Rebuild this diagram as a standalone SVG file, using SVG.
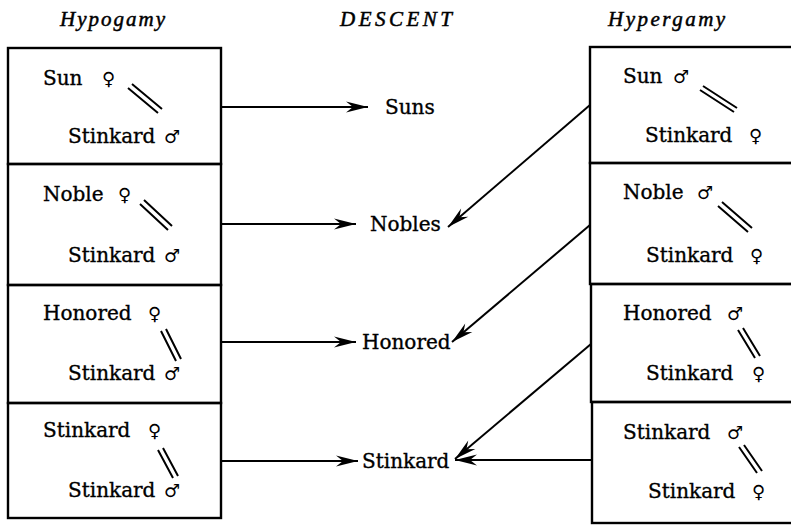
<svg xmlns="http://www.w3.org/2000/svg" width="791" height="526" viewBox="0 0 791 526">
<defs>
<marker id="ah" markerUnits="userSpaceOnUse" markerWidth="26" markerHeight="14" viewBox="-24 -7 26 14" refX="0" refY="0" orient="auto">
<path d="M0,0 L-22,-5.5 L-15,0 L-22,5.5 Z" fill="#000"/>
</marker>
</defs>
<style>
.box{fill:none;stroke:#000;stroke-width:2.4}
.t{font-family:"DejaVu Serif",serif;font-size:20px;fill:#000;stroke:#000;stroke-width:0.35}
.h{font-family:"Liberation Serif",serif;font-style:italic;font-size:21px;fill:#000;stroke:#000;stroke-width:0.5}
.g{font-family:"DejaVu Sans",sans-serif;font-size:18px;font-weight:bold;fill:#000}
.eq{stroke:#000;stroke-width:2;fill:none}
.c{stroke:#000;stroke-width:2;fill:none;marker-end:url(#ah)}
</style>
<rect width="791" height="526" fill="#fff"/>
<g id="headers">
<text class="h" x="60" y="26" letter-spacing="2">Hypogamy</text>
<text class="h" x="340" y="26" letter-spacing="3.5">DESCENT</text>
<text class="h" x="608" y="26" letter-spacing="2.5">Hypergamy</text>
</g>
<g id="hypo1">
<rect class="box" x="8" y="48" width="213" height="116"/>
<text class="t" x="43" y="85">Sun</text><text class="g" x="102" y="85">♀</text>
<path class="eq" d="M128,88 L158,113 M132,84 L162,109"/>
<text class="t" x="68" y="143">Stinkard</text><text class="g" x="164" y="143">♂</text>
</g>
<g id="hypo2">
<rect class="box" x="8" y="164" width="213" height="121"/>
<text class="t" x="43" y="201">Noble</text><text class="g" x="118" y="201">♀</text>
<path class="eq" d="M140,204 L168,230 M144,200 L172,226"/>
<text class="t" x="68" y="262">Stinkard</text><text class="g" x="164" y="262">♂</text>
</g>
<g id="hypo3">
<rect class="box" x="8" y="285" width="213" height="118"/>
<text class="t" x="43" y="320">Honored</text><text class="g" x="148" y="320">♀</text>
<path class="eq" d="M161,331 L176,361 M166,329 L181,359"/>
<text class="t" x="68" y="380">Stinkard</text><text class="g" x="164" y="380">♂</text>
</g>
<g id="hypo4">
<rect class="box" x="8" y="403" width="213" height="115"/>
<text class="t" x="43" y="437">Stinkard</text><text class="g" x="148" y="437">♀</text>
<path class="eq" d="M158,450 L173,478 M163,448 L178,476"/>
<text class="t" x="68" y="497">Stinkard</text><text class="g" x="164" y="497">♂</text>
</g>
<g id="hyper1">
<rect class="box" x="590" y="47" width="210" height="116"/>
<text class="t" x="623" y="83">Sun</text><text class="g" x="673" y="83">♂</text>
<path class="eq" d="M700,90 L734,112 M703,86 L737,108"/>
<text class="t" x="645" y="142">Stinkard</text><text class="g" x="749" y="142">♀</text>
</g>
<g id="hyper2">
<rect class="box" x="590" y="163" width="210" height="121"/>
<text class="t" x="623" y="199">Noble</text><text class="g" x="697" y="199">♂</text>
<path class="eq" d="M718,206 L748,232 M722,202 L752,228"/>
<text class="t" x="646" y="262">Stinkard</text><text class="g" x="750" y="262">♀</text>
</g>
<g id="hyper3">
<rect class="box" x="591" y="284" width="210" height="118"/>
<text class="t" x="623" y="320">Honored</text><text class="g" x="727" y="320">♂</text>
<path class="eq" d="M738,330 L755,358 M743,328 L760,356"/>
<text class="t" x="646" y="380">Stinkard</text><text class="g" x="752" y="380">♀</text>
</g>
<g id="hyper4">
<rect class="box" x="592" y="402" width="210" height="121"/>
<text class="t" x="623" y="439">Stinkard</text><text class="g" x="727" y="439">♂</text>
<path class="eq" d="M739,447 L757,473 M744,445 L762,471"/>
<text class="t" x="648" y="498">Stinkard</text><text class="g" x="752" y="498">♀</text>
</g>
<g id="descent">
<text class="t" x="385" y="114">Suns</text>
<text class="t" x="370" y="231">Nobles</text>
<text class="t" x="362" y="349">Honored</text>
<text class="t" x="362" y="468">Stinkard</text>
</g>
<g id="connectors">
<path class="c" d="M221,107 L368,107"/>
<path class="c" d="M221,224 L356,224"/>
<path class="c" d="M221,342 L356,342"/>
<path class="c" d="M221,461 L358,461"/>
<path class="c" d="M590,105 L448,227"/>
<path class="c" d="M590,225 L452,342"/>
<path class="c" d="M591,344 L455,459"/>
<path class="c" d="M592,460 L455,460"/>
</g>
</svg>
